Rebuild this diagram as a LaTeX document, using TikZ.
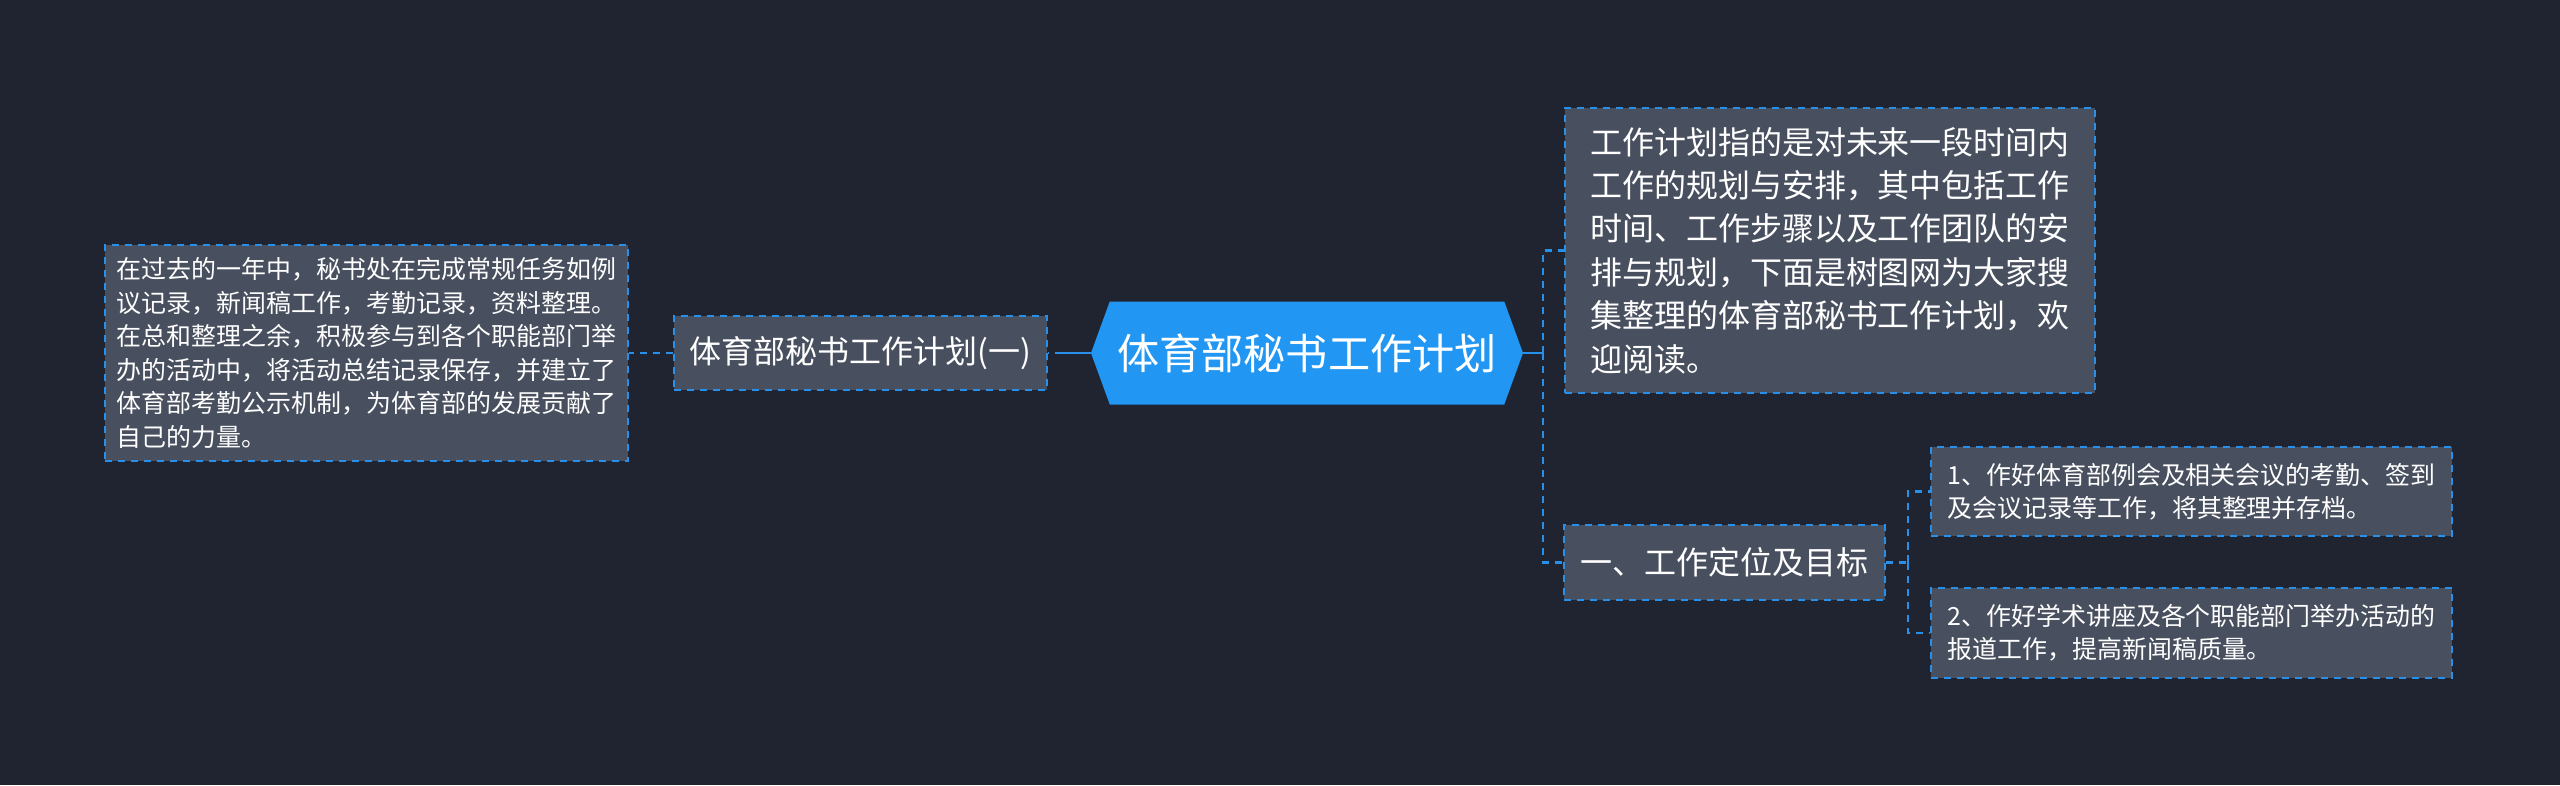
\documentclass[tikz,border=0pt]{standalone}
\usepackage{fontspec}
\setmainfont{Noto Sans CJK SC}
\usetikzlibrary{positioning, shapes.symbols}

\definecolor{bgcol}{RGB}{32,36,48}
\definecolor{boxfill}{RGB}{72,79,95}
\definecolor{rootblue}{RGB}{33,150,243}
\definecolor{linkblue}{RGB}{40,144,232}

\tikzset{
    dashline/.style={draw=linkblue, line width=1.2pt, dash pattern=on 4pt off 3.4pt},
    linkdash/.style={dashline, line width=1.6pt},
    topic/.style={signal, signal to=west and east, signal pointer angle=140,
        fill=rootblue, text=white, inner sep=0pt,
        font=\fontsize{24}{28}\selectfont},
    subtopic/.style={dashline, fill=boxfill, text=white, inner sep=0pt,
        font=\fontsize{18.2}{22}\selectfont},
    leafbox/.style={dashline, fill=boxfill, text=white, inner sep=0pt, align=left},
    link/.style={draw=linkblue, line width=1.6pt}
}

\begin{document}
\begin{tikzpicture}
    \fill[bgcol] (0,0) rectangle (51.2,-15.7);
    \useasboundingbox (0,0) rectangle (51.2,-15.7);

    \node[topic, minimum width=8.64cm, minimum height=2.06cm] (root) at (26.14,-7.06) {体育部秘书工作计划};

    % left side
    \node[subtopic, minimum width=7.46cm, minimum height=1.48cm] (plan) at (17.21,-7.06) {体育部秘书工作计划(一)};
    \node[leafbox, minimum width=10.46cm, minimum height=4.32cm,
        font=\fontsize{14.2}{19.1}\selectfont] (review) at (7.33,-7.06)
        {在过去的一年中，秘书处在完成常规任务如例\\
         议记录，新闻稿工作，考勤记录，资料整理。\\
         在总和整理之余，积极参与到各个职能部门举\\
         办的活动中，将活动总结记录保存，并建立了\\
         体育部考勤公示机制，为体育部的发展贡献了\\
         自己的力量。};

    % right side
    \node[leafbox, minimum width=10.6cm, minimum height=5.7cm,
        font=\fontsize{18.2}{24.7}\selectfont] (intro) at (36.6,-5.01)
        {工作计划指的是对未来一段时间内\\
         工作的规划与安排，其中包括工作\\
         时间、工作步骤以及工作团队的安\\
         排与规划，下面是树图网为大家搜\\
         集整理的体育部秘书工作计划，欢\\
         迎阅读。};
    \node[subtopic, minimum width=6.42cm, minimum height=1.5cm] (goal) at (34.49,-11.25) {一、工作定位及目标};
    \node[leafbox, minimum width=10.42cm, minimum height=1.78cm,
        font=\fontsize{14.2}{19}\selectfont] (taskA) at (43.83,-9.83)
        {1、作好体育部例会及相关会议的考勤、签到\\
         及会议记录等工作，将其整理并存档。};
    \node[leafbox, minimum width=10.42cm, minimum height=1.8cm,
        font=\fontsize{14.2}{19}\selectfont] (taskB) at (43.83,-12.66)
        {2、作好学术讲座及各个职能部门举办活动的\\
         报道工作，提高新闻稿质量。};

    \coordinate (jl) at (21.24,-7.06);
    \coordinate (jr) at (30.86,-7.06);
    \coordinate (jg) at (38.16,-11.25);

    \draw[link] (root.west) -- (jl);
    \draw[linkdash] (jl) -- (plan.east);
    \draw[linkdash] (plan.west) -- (review.east);
    \draw[link] (root.east) -- (jr);
    \draw[linkdash] (jr) |- (intro.west);
    \draw[linkdash] (jr) |- (goal.west);
    \draw[linkdash] (goal.east) -- (jg);
    \draw[linkdash] (jg) |- (taskA.west);
    \draw[linkdash] (jg) |- (taskB.west);
\end{tikzpicture}
\end{document}
